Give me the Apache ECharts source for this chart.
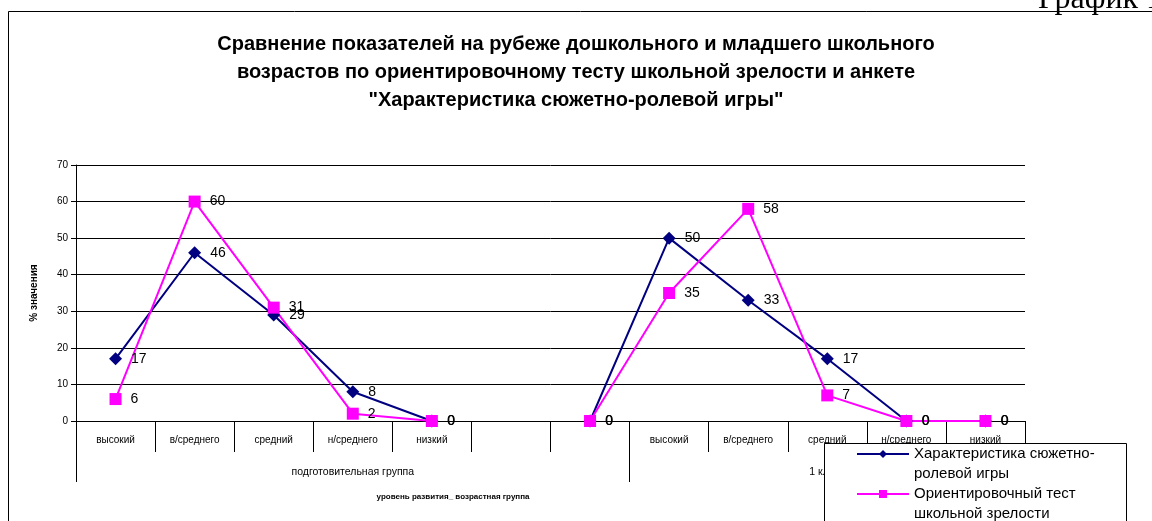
<!DOCTYPE html>
<html>
<head>
<meta charset="utf-8">
<script src="https://cdn.jsdelivr.net/npm/echarts@6/dist/echarts.min.js"></script>
<style>
html,body{margin:0;padding:0;background:#fff;}
#c{width:1152px;height:521px;}
</style>
</head>
<body>
<div id="c"></div>
<script>
const categories = ['высокий','в/среднего','средний','н/среднего','низкий','','','высокий','в/среднего','средний','н/среднего','низкий'];
const groupNames = ['подготовительная группа','1 класс'];
const seriesPlay = [17,46,29,8,0,null,0,50,33,17,0,0];
const seriesTest = [6,60,31,2,0,null,0,35,58,7,0,0];
const yTicks = [0,10,20,30,40,50,60,70];
const nameA = 'Характеристика сюжетно-\nролевой игры';
const nameB = 'Ориентировочный тест\nшкольной зрелости';

const FF = '"Liberation Sans", Arial, sans-serif';
const chart = echarts.init(document.getElementById('c'));
chart.setOption({
  animation: false,
  backgroundColor: '#fff',
  textStyle: {fontFamily: FF},
  title: {
    text: 'Сравнение показателей на рубеже дошкольного и младшего школьного\nвозрастов по ориентировочному тесту школьной зрелости и анкете\n"Характеристика сюжетно-ролевой игры"',
    left: 'center', top: 30, padding: [0,0,0,22],
    textStyle: {fontFamily: FF, fontSize: 20, fontWeight: 'bold', color: '#000', lineHeight: 28}
  },
  grid: {left: 76, right: 127, top: 165, bottom: 100, containLabel: false},
  legend: {
    left: 856, top: 424, height: 300, orient: 'vertical', itemGap: -20,
    itemWidth: 52, itemHeight: 10, padding: 0, z: 10,
    data: [nameA, nameB],
    formatter: name => '\n' + name,
    textStyle: {fontFamily: FF, fontSize: 15, color: '#000', lineHeight: 20}
  },
  xAxis: [{
    type: 'category', data: categories, boundaryGap: true,
    axisLine: {lineStyle: {color: '#000', width: 1}},
    axisTick: {show: true, length: 31, lineStyle: {color: '#000'}},
    axisLabel: {interval: 0, fontSize: 10, color: '#000', margin: 14, fontFamily: FF},
    splitLine: {show: false}
  }, {
    type: 'value', min: 0, max: categories.length, position: 'bottom',
    axisLine: {show: false},
    axisTick: {show: true, length: 61, customValues: [0, 7], lineStyle: {color: '#000'}},
    axisLabel: {show: true, customValues: [3.5, 9.5], margin: 46, fontSize: 10.5, color: '#000', fontFamily: FF,
      formatter: v => v < 7 ? groupNames[0] : groupNames[1]},
    splitLine: {show: false}
  }],
  yAxis: {
    type: 'value', min: yTicks[0], max: yTicks[yTicks.length-1], interval: 10,
    name: '% значения', nameLocation: 'middle', nameGap: 37, nameRotate: 90,
    nameTextStyle: {fontSize: 10, fontWeight: 'bold', color: '#000', fontFamily: FF},
    axisLine: {show: true, lineStyle: {color: '#000'}},
    axisTick: {show: true, length: 5, lineStyle: {color: '#000'}},
    axisLabel: {fontSize: 10, color: '#000', margin: 8, fontFamily: FF},
    splitLine: {show: true, lineStyle: {color: '#000', width: 1}}
  },
  series: [{
    name: nameA, type: 'line', data: seriesPlay, connectNulls: false,
    symbol: 'diamond', symbolSize: 13,
    itemStyle: {color: '#000080'}, lineStyle: {color: '#000080', width: 2},
    label: {show: true, position: 'right', distance: 9, fontSize: 14, color: '#000', fontFamily: FF}
  }, {
    name: nameB, type: 'line', data: seriesTest, connectNulls: false,
    symbol: 'rect', symbolSize: 12,
    itemStyle: {color: '#FF00FF'}, lineStyle: {color: '#FF00FF', width: 2},
    label: {show: true, position: 'right', distance: 9, fontSize: 14, color: '#000', fontFamily: FF}
  }],
  graphic: [
    {type: 'rect', shape: {x: 8.5, y: 11.5, width: 1300, height: 700}, style: {fill: null, stroke: '#000', lineWidth: 1}, z: -1, silent: true},
    {type: 'rect', shape: {x: 824.5, y: 443.5, width: 302, height: 200}, style: {fill: '#fff', stroke: '#000', lineWidth: 1}, z: 3, silent: true},
    {type: 'text', x: 1038, y: 16, style: {text: 'График 1', font: '32px "Liberation Serif", "Times New Roman", serif', fill: '#000', textVerticalAlign: 'bottom'}, silent: true},
    {type: 'text', x: 453, y: 493, style: {text: 'уровень развития_ возрастная группа', font: 'bold 8px "Liberation Sans", Arial, sans-serif', fill: '#000', textAlign: 'center', textVerticalAlign: 'top'}, silent: true}
  ]
});
</script>
</body>
</html>
